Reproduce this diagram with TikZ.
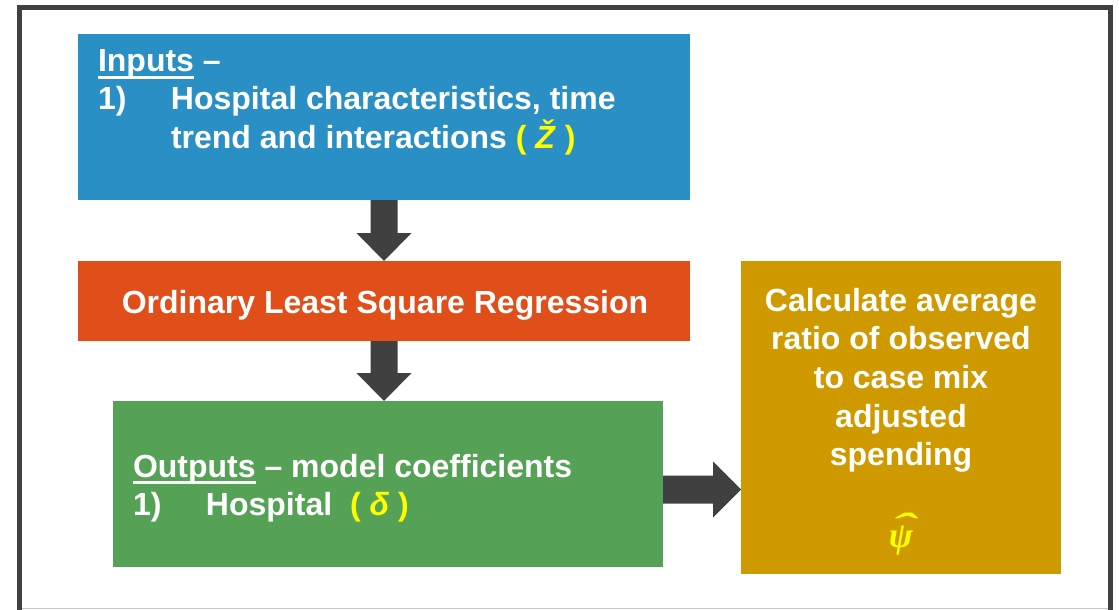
\documentclass[tikz,border=0pt]{standalone}
\usepackage{graphicx}
\usepackage{fontspec}
\setmainfont{Liberation Sans}
\newfontfamily\psifont{Liberation Serif}
\usetikzlibrary{calc}
\definecolor{boxblue}{HTML}{2A8FC4}
\definecolor{boxorange}{HTML}{E04E1A}
\definecolor{boxgreen}{HTML}{55A257}
\definecolor{boxgold}{HTML}{CF9900}
\definecolor{arrowc}{HTML}{404040}
\definecolor{framec}{HTML}{404040}
\definecolor{symyellow}{HTML}{FFFF00}
\newcommand\myul[1]{\setbox0\hbox{#1}\rlap{\rule[-7pt]{\wd0}{3pt}}\box0\relax}
\newcommand\psihat{\setbox0\hbox{ψ}\rlap{\hbox to \wd0{\hss\kern4pt\raisebox{9pt}{\scalebox{2}[1]{ˆ}}\hss}}\box0\relax}
\begin{document}
\begin{tikzpicture}[x=1pt,y=-1pt,
  boxnode/.style={fill=#1, draw=none, inner sep=0, outer sep=0},
  txt/.style={text=white, font=\bfseries\fontsize{32}{38}\selectfont, inner sep=0, outer sep=0, anchor=base west},
  ctxt/.style={text=white, font=\bfseries\fontsize{32}{38.7}\selectfont, inner sep=0, outer sep=0, align=center},
  blockarrow/.style={fill=arrowc, draw=none}]
\useasboundingbox (0,0) rectangle (1119,610);
\clip (0,0) rectangle (1119,610);
% frame
\draw[framec, line width=5pt] (19.5,616) -- (19.5,8) -- (1110.5,8) -- (1110.5,616);
\draw[black!22, line width=1pt] (22,608.5) -- (1108,608.5);
% boxes
\node[boxnode=boxblue, minimum width=612pt, minimum height=166pt] (blue) at (384,117) {};
\node[boxnode=boxorange, minimum width=612pt, minimum height=80pt] (orange) at (384,301) {};
\node[boxnode=boxgreen, minimum width=550pt, minimum height=166pt] (green) at (388,484) {};
\node[boxnode=boxgold, minimum width=320pt, minimum height=313pt] (gold) at (901,417.5) {};
% texts
\node[txt] (in1) at (98,72) {\myul{Inputs} –};
\node[txt] (in2) at (98,110) {\makebox[73pt][l]{1)}Hospital characteristics, time};
\node[txt] (in3) at (171,148) {trend and interactions {\color{symyellow}( \textit{Ž} )}};
\node[txt, anchor=base] (ols) at (385,313) {Ordinary Least Square Regression};
\node[txt] (out1) at (133,477) {\myul{Outputs} – model coefficients};
\node[txt] (out2) at (133,515) {\makebox[73pt][l]{1)}Hospital\ \ {\color{symyellow}( \textit{δ} )}};
\node[ctxt, anchor=north] (calctext) at (901,288) {Calculate average\\ratio of observed\\to case mix\\adjusted\\spending};
\node[text=symyellow, font=\psifont\bfseries\itshape\fontsize{36}{40}\selectfont, inner sep=0, anchor=base] (psinode) at (901,547) {\psihat};
% arrows
\fill[blockarrow] ($(blue.south)+(-13.5,0)$) -- ($(blue.south)+(13.5,0)$) -- ($(orange.north)+(13.5,-28)$) -- ($(orange.north)+(27.5,-28)$) -- (orange.north) -- ($(orange.north)+(-27.5,-28)$) -- ($(orange.north)+(-13.5,-28)$) -- cycle;
\coordinate (gtop) at (orange.south |- green.north);
\fill[blockarrow] ($(orange.south)+(-13.5,0)$) -- ($(orange.south)+(13.5,0)$) -- ($(gtop)+(13.5,-28)$) -- ($(gtop)+(27.5,-28)$) -- (gtop) -- ($(gtop)+(-27.5,-28)$) -- ($(gtop)+(-13.5,-28)$) -- cycle;
\coordinate (rs) at ($(green.east)+(0,5.5)$);
\coordinate (rt) at (gold.west |- rs);
\fill[blockarrow] ($(rs)+(0,-14)$) -- ($(rt)+(-28,-14)$) -- ($(rt)+(-28,-28)$) -- (rt) -- ($(rt)+(-28,28)$) -- ($(rt)+(-28,14)$) -- ($(rs)+(0,14)$) -- cycle;
\end{tikzpicture}
\end{document}
